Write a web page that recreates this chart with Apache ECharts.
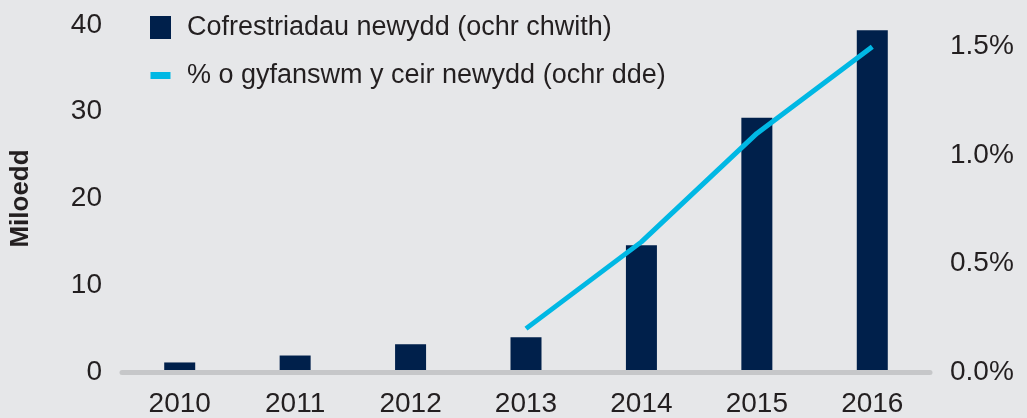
<!DOCTYPE html>
<html><head>
<meta charset="utf-8">
<title>Cofrestriadau newydd</title>
<script src="https://cdn.jsdelivr.net/npm/echarts@6/dist/echarts.min.js"></script>
<style>
html,body{margin:0;padding:0;background:#e6e7e9;}
#main{width:1027px;height:418px;}
</style>
</head>
<body>
<div id="main"></div>
<script type="text/javascript">
// data
var years = ['2010', '2011', '2012', '2013', '2014', '2015', '2016'];
var registrations = [1.1, 1.9, 3.2, 4.0, 14.6, 29.3, 39.4];   // miloedd
var sharePct = [null, null, null, 0.2, 0.6, 1.1, 1.5];       // %
var barName = 'Cofrestriadau newydd (ochr chwith)';
var lineName = '% o gyfanswm y ceir newydd (ochr dde)';

var txt = '#231f20';
var font = 'Liberation Sans';

var myChart = echarts.init(document.getElementById('main'));

option = {
    backgroundColor: '#e6e7e9',
    animation: false,
    textStyle: { fontFamily: font, color: txt },
    legend: {
        orient: 'vertical',
        left: 145,
        top: 9,
        itemWidth: 21,
        itemHeight: 23,
        itemGap: 21,
        textStyle: { fontFamily: font, fontSize: 27, color: txt, padding: [0, 0, 0, 11] },
        data: [
            { name: barName, icon: 'rect' },
            { name: lineName, icon: 'path://M0,0 M0,8 L20,8 L20,15 L0,15 Z M20,23' }
        ]
    },
    grid: { left: 120, right: 97, top: 25, bottom: 45.5 },
    xAxis: {
        type: 'category',
        data: years,
        z: 3,
        axisLine: { lineStyle: { color: '#c6c7c9', width: 5 } },
        axisTick: { show: false },
        axisLabel: { fontFamily: font, fontSize: 28, color: txt, margin: 18 }
    },
    yAxis: [
        {
            type: 'value',
            min: 0, max: 40, interval: 10,
            name: 'Miloedd',
            nameLocation: 'middle',
            nameGap: 88,
            nameRotate: 90,
            nameTextStyle: { fontFamily: font, fontSize: 26, fontWeight: 'bold', color: txt },
            splitLine: { show: false },
            axisLine: { show: false },
            axisTick: { show: false },
            axisLabel: { fontFamily: font, fontSize: 28, color: txt, margin: 20 }
        },
        {
            type: 'value',
            min: 0, max: 1.6, interval: 0.5,
            position: 'right',
            splitLine: { show: false },
            axisLine: { show: false },
            axisTick: { show: false },
            axisLabel: {
                fontFamily: font, fontSize: 28, color: txt, margin: 20,
                formatter: function (v) { return v > 1.55 ? '' : v.toFixed(1) + '%'; }
            }
        }
    ],
    series: [
        {
            name: barName,
            type: 'bar',
            data: registrations,
            barWidth: 31,
            itemStyle: { color: '#00204b' }
        },
        {
            name: lineName,
            type: 'line',
            yAxisIndex: 1,
            data: sharePct,
            showSymbol: false,
            symbol: 'none',
            lineStyle: { color: '#00b8e4', width: 5 },
            itemStyle: { color: '#00b8e4' }
        }
    ]
};
myChart.setOption(option);
</script>
</body>
</html>
